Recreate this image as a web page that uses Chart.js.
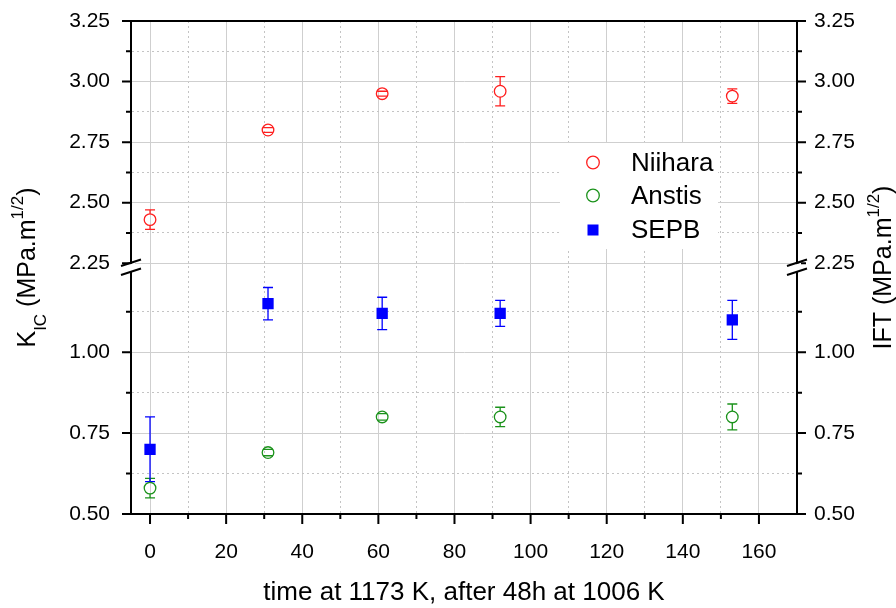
<!DOCTYPE html>
<html lang="en">
<head>
    <meta charset="utf-8" />
    <title>KIC vs time</title>
    <script src="https://cdn.jsdelivr.net/npm/chart.js"></script>
    <style>
        body { margin: 0; background: #fff; }
    </style>
</head>
<body>
    <canvas id="kicChart" width="896" height="608"></canvas>
    <script>
        // data
        const times = [0, 31, 61, 92, 153];
        const niihara = [2.43, 2.80, 2.95, 2.96, 2.94];
        const niiharaErr = [0.04, 0.01, 0.01, 0.06, 0.03];
        const anstis = [0.58, 0.69, 0.80, 0.80, 0.80];
        const anstisErr = [0.03, 0.01, 0.01, 0.03, 0.04];
        const sepb = [0.70, 1.15, 1.12, 1.12, 1.10];
        const sepbErr = [0.10, 0.05, 0.05, 0.04, 0.06];

        const xTickValues = [0, 10, 20, 30, 40, 50, 60, 70, 80, 90, 100, 110, 120, 130, 140, 150, 160];
        const lowTickValues = [0.5, 0.625, 0.75, 0.875, 1.0, 1.125];
        const highTickValues = [2.25, 2.375, 2.5, 2.625, 2.75, 2.875, 3.0, 3.125, 3.25];

        const FONT = "'Liberation Sans', Arial, sans-serif";
        Chart.defaults.font.family = FONT;
        Chart.defaults.color = '#000';

        function yMajor(v) { return Math.abs(v * 4 - Math.round(v * 4)) < 1e-6; }

        // the library's own tick marks are kept invisible and only used as label spacing;
        // the real marks (long/short) are drawn in the plugin below
        function yAxis(pos, stack, weight, min, max, tickValues) {
            return {
                type: 'linear', position: pos, stack: stack, stackWeight: weight, min: min, max: max,
                afterBuildTicks: s => { s.ticks = tickValues.map(v => ({ value: v })); },
                afterFit: s => { s.width = pos === 'left' ? 71 : 59; },
                ticks: {
                    autoSkip: false, padding: 0, color: '#000',
                    font: { size: 21 },
                    callback: v => yMajor(v) ? v.toFixed(2) : ''
                },
                grid: {
                    drawOnChartArea: pos === 'left', drawTicks: true, tickLength: pos === 'left' ? 21 : 17,
                    tickColor: 'rgba(0,0,0,0)', lineWidth: 1,
                    color: c => c.tick && yMajor(c.tick.value) ? '#cfcfcf' : '#c4c4c4'
                },
                border: { color: '#000', width: 2, dash: c => c.tick && !yMajor(c.tick.value) ? [2, 3] : [] }
            };
        }

        // error bars, tick marks, frame top, axis breaks, legend and y titles
        const extras = {
            id: 'extras',
            beforeDatasetsDraw(chart) {
                const ctx = chart.ctx;
                const xs = chart.scales.x;
                chart.data.datasets.forEach(ds => {
                    const ys = chart.scales[ds.yAxisID];
                    ctx.save();
                    ctx.strokeStyle = ds.borderColor;
                    ctx.lineWidth = 1.3;
                    ds.data.forEach((p, j) => {
                        const e = ds.errors[j];
                        const x = xs.getPixelForValue(p.x);
                        const yc = ys.getPixelForValue(p.y);
                        const yt = ys.getPixelForValue(p.y + e);
                        const yb = ys.getPixelForValue(p.y - e);
                        const gap = ds.errGap;
                        ctx.beginPath();
                        if (yc - yt > gap) { ctx.moveTo(x, yt); ctx.lineTo(x, yc - gap); }
                        if (yb - yc > gap) { ctx.moveTo(x, yc + gap); ctx.lineTo(x, yb); }
                        ctx.moveTo(x - 5, yt); ctx.lineTo(x + 5, yt);
                        ctx.moveTo(x - 5, yb); ctx.lineTo(x + 5, yb);
                        ctx.stroke();
                    });
                    ctx.restore();
                });
            },
            afterDraw(chart) {
                const ctx = chart.ctx;
                const area = chart.chartArea;
                ctx.save();
                ctx.strokeStyle = '#000';
                ctx.lineWidth = 2;
                ctx.beginPath();
                // top edge of the frame
                ctx.moveTo(area.left - 9, area.top);
                ctx.lineTo(area.right + 9, area.top);
                // y tick marks
                ['yLow', 'yHigh', 'yLowR', 'yHighR'].forEach(id => {
                    const s = chart.scales[id];
                    const left = s.position === 'left';
                    s.ticks.forEach(t => {
                        const y = s.getPixelForValue(t.value);
                        const len = yMajor(t.value) ? 9 : 5;
                        const x0 = left ? area.left : area.right;
                        ctx.moveTo(x0, y);
                        ctx.lineTo(left ? x0 - len : x0 + len, y);
                    });
                });
                // x tick marks
                const xs = chart.scales.x;
                xs.ticks.forEach(t => {
                    const x = xs.getPixelForValue(t.value);
                    const len = t.value % 20 === 0 ? 10 : 5;
                    ctx.moveTo(x, area.bottom);
                    ctx.lineTo(x, area.bottom + len);
                });
                ctx.stroke();

                // axis breaks
                const yBreak = chart.scales.yHigh.getPixelForValue(2.25) + 4;
                [area.left, area.right].forEach(cx => {
                    ctx.fillStyle = '#fff';
                    ctx.beginPath();
                    ctx.moveTo(cx - 4, yBreak - 3.2 + 1.3);
                    ctx.lineTo(cx + 4, yBreak - 3.2 - 1.3);
                    ctx.lineTo(cx + 4, yBreak + 4.5 - 1.3);
                    ctx.lineTo(cx - 4, yBreak + 4.5 + 1.3);
                    ctx.closePath();
                    ctx.fill();
                    ctx.beginPath();
                    [-4.5, 4.5].forEach(d => {
                        ctx.moveTo(cx - 10, yBreak + d + 3.3);
                        ctx.lineTo(cx + 10, yBreak + d - 3.3);
                    });
                    ctx.stroke();
                });

                // legend
                ctx.fillStyle = '#fff';
                ctx.fillRect(560, 143, 158, 106);
                const rows = [162.5, 195.5, 230];
                chart.data.datasets.forEach((ds, i) => {
                    const y = rows[i];
                    ctx.lineWidth = 1.3;
                    ctx.strokeStyle = ds.borderColor;
                    ctx.fillStyle = ds.borderColor;
                    if (ds.pointStyle === 'rect') {
                        ctx.fillRect(593 - 5.5, y - 5.5, 11, 11);
                    } else {
                        ctx.beginPath();
                        ctx.arc(593, y, 6.3, 0, Math.PI * 2);
                        ctx.stroke();
                    }
                    ctx.fillStyle = '#000';
                    ctx.font = '26px ' + FONT;
                    ctx.textAlign = 'left';
                    ctx.textBaseline = 'middle';
                    ctx.fillText(ds.label, 631, y + 1);
                });

                // y titles with sub/superscripts
                const cy = (area.top + area.bottom) / 2;
                drawRuns(ctx, 35, cy, [['K', 25, 0], ['IC', 17, 11], [' (MPa.m', 25, 0], ['1/2', 17, -12], [')', 25, 0]]);
                drawRuns(ctx, 891, cy, [['IFT (MPa.m', 25, 0], ['1/2', 17, -12], [')', 25, 0]]);
                ctx.restore();
            }
        };

        function drawRuns(ctx, bx, cy, runs) {
            ctx.save();
            ctx.fillStyle = '#000';
            ctx.textAlign = 'left';
            ctx.textBaseline = 'alphabetic';
            let total = 0;
            runs.forEach(r => { ctx.font = r[1] + 'px ' + FONT; total += ctx.measureText(r[0]).width; });
            ctx.translate(bx, cy);
            ctx.rotate(-Math.PI / 2);
            let x = -total / 2;
            runs.forEach(r => {
                ctx.font = r[1] + 'px ' + FONT;
                ctx.fillText(r[0], x, r[2]);
                x += ctx.measureText(r[0]).width;
            });
            ctx.restore();
        }

        function points(ys) { return times.map((t, i) => ({ x: t, y: ys[i] })); }

        new Chart(document.getElementById('kicChart'), {
            type: 'scatter',
            data: {
                datasets: [{
                    label: 'Niihara', data: points(niihara), errors: niiharaErr, errGap: 5.8, yAxisID: 'yHigh',
                    pointStyle: 'circle', pointRadius: 5.8, borderColor: '#ff1f1f', backgroundColor: 'rgba(0,0,0,0)', borderWidth: 1.3
                }, {
                    label: 'Anstis', data: points(anstis), errors: anstisErr, errGap: 5.8, yAxisID: 'yLow',
                    pointStyle: 'circle', pointRadius: 5.8, borderColor: '#1b921b', backgroundColor: 'rgba(0,0,0,0)', borderWidth: 1.3
                }, {
                    label: 'SEPB', data: points(sepb), errors: sepbErr, errGap: 0, yAxisID: 'yLow',
                    pointStyle: 'rect', pointRadius: 8, borderColor: '#0000ff', backgroundColor: '#0000ff', borderWidth: 0
                }]
            },
            options: {
                responsive: false,
                animation: false,
                events: [],
                layout: { padding: { left: 60, right: 40, top: 21, bottom: 0 } },
                plugins: { legend: { display: false }, tooltip: { enabled: false } },
                scales: {
                    x: {
                        type: 'linear', position: 'bottom', min: -5, max: 170,
                        afterBuildTicks: s => { s.ticks = xTickValues.map(v => ({ value: v })); },
                        afterFit: s => { s.height = 94; },
                        ticks: {
                            autoSkip: false, maxRotation: 0, padding: 0, color: '#000', font: { size: 21 },
                            callback: v => v % 20 === 0 ? String(v) : ''
                        },
                        grid: {
                            drawTicks: true, tickLength: 26, tickColor: 'rgba(0,0,0,0)', lineWidth: 1,
                            color: c => c.tick && c.tick.value % 20 === 0 ? '#cfcfcf' : '#c4c4c4'
                        },
                        border: { color: '#000', width: 2, dash: c => c.tick && c.tick.value % 20 !== 0 ? [2, 3] : [] },
                        title: { display: true, text: 'time at 1173 K, after 48h at 1006 K', font: { size: 26 }, color: '#000', padding: { top: 0, bottom: 0 } }
                    },
                    yLow: yAxis('left', 'L', 251, 0.5, 1.275, lowTickValues),
                    yHigh: yAxis('left', 'L', 242.5, 2.25, 3.25, highTickValues),
                    yHighR: yAxis('right', 'R', 242.5, 2.25, 3.25, highTickValues),
                    yLowR: yAxis('right', 'R', 251, 0.5, 1.275, lowTickValues)
                }
            },
            plugins: [extras]
        });
    </script>
</body>
</html>
